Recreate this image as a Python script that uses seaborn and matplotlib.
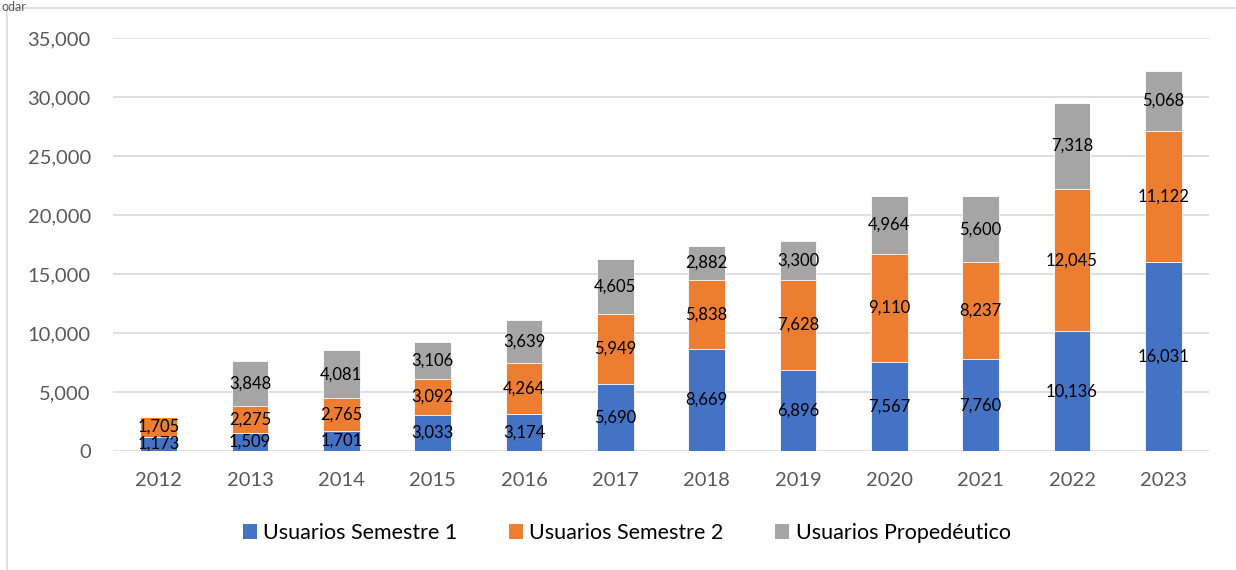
import numpy as np
import pandas as pd
import matplotlib
matplotlib.use("Agg")
import matplotlib.pyplot as plt
from matplotlib.patches import Rectangle, Patch
import seaborn as sns

years = ["2012", "2013", "2014", "2015", "2016", "2017", "2018", "2019", "2020", "2021", "2022", "2023"]
sem1 = [1173, 1509, 1701, 3033, 3174, 5690, 8669, 6896, 7567, 7760, 10136, 16031]
sem2 = [1705, 2275, 2765, 3092, 4264, 5949, 5838, 7628, 9110, 8237, 12045, 11122]
prop = [0, 3848, 4081, 3106, 3639, 4605, 2882, 3300, 4964, 5600, 7318, 5068]
series_names = ["Usuarios Semestre 1", "Usuarios Semestre 2", "Usuarios Propedéutico"]
yticks = [0, 5000, 10000, 15000, 20000, 25000, 30000, 35000]

colors = ["#4472C4", "#ED7D31", "#A5A5A5"]

sns.set_theme(style="white")
plt.rcParams["font.family"] = ["Lato", "DejaVu Sans"]

fig = plt.figure(figsize=(12.36, 5.70), dpi=100)
ax = fig.add_axes([113/1236, (570-451)/570, (1209-113)/1236, (451-38)/570])

s1 = np.array(sem1)
s2 = np.array(sem2)
s3 = np.array(prop)
cum1 = s1
cum2 = s1 + s2
cum3 = s1 + s2 + s3

df = pd.DataFrame({"year": years, "c1": cum1, "c2": cum2, "c3": cum3})
for col, c in zip(["c3", "c2", "c1"], [colors[2], colors[1], colors[0]]):
    sns.barplot(data=df, x="year", y=col, color=c, width=0.405, ax=ax,
                saturation=1, edgecolor="white", linewidth=0.6, zorder=3)

for i in range(len(years)):
    for val, base in [(s1[i], 0), (s2[i], cum1[i]), (s3[i], cum2[i])]:
        if val > 0:
            ax.text(i, base + val / 2, f"{val:,}", ha="center", va="center",
                    fontsize=12, color="black", zorder=5)

ax.set_xlim(-0.5, len(years) - 0.5)
ax.set_ylim(0, 35000)
ax.set_yticks(yticks)
ax.set_yticklabels([f"{v:,}" for v in yticks])
ax.yaxis.grid(True, color="#D9D9D9", linewidth=1.2, zorder=0)
ax.set_axisbelow(True)
for sp in ax.spines.values():
    sp.set_visible(False)
ax.tick_params(axis="both", length=0, labelsize=14.5, colors="#595959")
ax.tick_params(axis="y", pad=16)
ax.tick_params(axis="x", pad=15)
ax.set_xlabel("")
ax.set_ylabel("")

handles = [Patch(facecolor=c, edgecolor="none") for c in colors]
fig.legend(handles, series_names, loc="center", bbox_to_anchor=(0.507, 1 - 533/570),
           ncol=3, frameon=False, fontsize=15.5, handlelength=0.65, handleheight=0.65,
           handletextpad=0.3, columnspacing=2.4, labelcolor="#000000")

# chart area border (cropped)
fig.patches.append(Rectangle((7/1236, -0.1), 1.2, 1 - 8/570 + 0.1, transform=fig.transFigure,
                             fill=False, edgecolor="#D9D9D9", linewidth=1.2))
fig.text(0.001, 0.999, "odar", ha="left", va="top", fontsize=9, color="#595959")

fig.savefig("out.png", dpi=100)
